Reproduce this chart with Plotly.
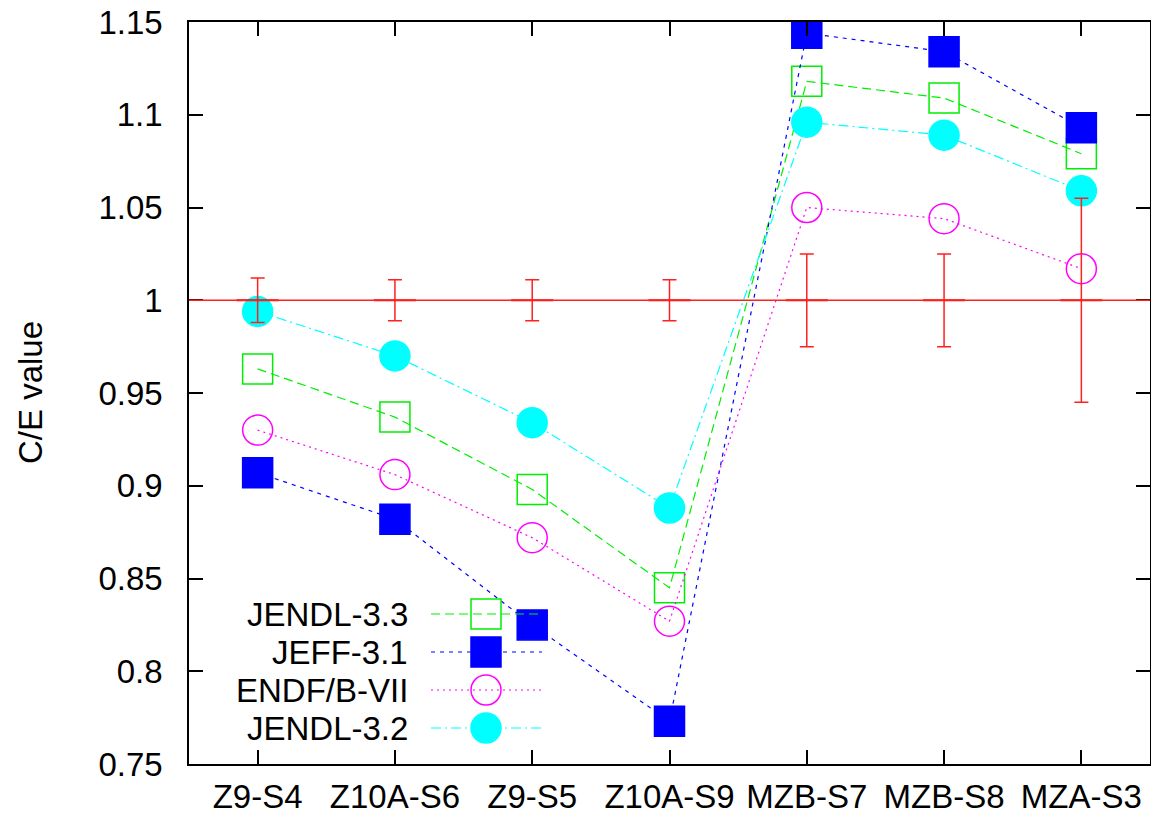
import plotly.graph_objects as go

categories = ["Z9-S4", "Z10A-S6", "Z9-S5", "Z10A-S9", "MZB-S7", "MZB-S8", "MZA-S3"]
jendl33 = [0.963, 0.937, 0.898, 0.845, 1.118, 1.109, 1.079]
jeff31 = [0.907, 0.882, 0.825, 0.773, 1.144, 1.134, 1.093]
endf7 = [0.930, 0.906, 0.872, 0.827, 1.050, 1.044, 1.017]
jendl32 = [0.994, 0.970, 0.934, 0.888, 1.096, 1.089, 1.059]
exp_value = [1, 1, 1, 1, 1, 1, 1]
exp_err = [0.012, 0.011, 0.011, 0.011, 0.025, 0.025, 0.055]

y_tickvals = [0.75, 0.8, 0.85, 0.9, 0.95, 1.0, 1.05, 1.1, 1.15]
y_ticktext = ["0.75", "0.8", "0.85", "0.9", "0.95", "1", "1.05", "1.1", "1.15"]

series_names = ["JENDL-3.3", "JEFF-3.1", "ENDF/B-VII", "JENDL-3.2"]
series_values = [jendl33, jeff31, endf7, jendl32]
series_colors = ["#00ee00", "#0000ff", "#ff00ff", "#00ffff"]
series_dash = ["9px,5px", "4px,5px", "2px,4px", "10px,4px,2px,4px"]
series_symbol = ["square-open", "square", "circle-open", "circle"]

FONT = "Liberation Sans, Arial, Helvetica, sans-serif"
FS = 33
W, H = 1151, 814
ML, MR, MT, MB = 189, 1, 22, 50

fig = go.Figure()
xidx = list(range(len(categories)))

for name, vals, col, dash, sym in zip(series_names, series_values, series_colors, series_dash, series_symbol):
    fig.add_trace(go.Scatter(
        x=xidx, y=vals, mode="lines+markers", name=name, showlegend=False,
        line=dict(color=col, width=1.2, dash=dash),
        marker=dict(symbol=sym, size=30, color=col, line=dict(color=col, width=1.5)),
    ))

# experimental reference with error bars
fig.add_shape(type="line", xref="paper", yref="y", x0=0, x1=1, y0=1, y1=1,
              line=dict(color="#ff2020", width=1.5), layer="above")
fig.add_trace(go.Scatter(
    x=xidx, y=exp_value, mode="markers", showlegend=False,
    marker=dict(symbol="line-ew", size=30, color="#ff0000", line=dict(color="#ff0000", width=2)),
    error_y=dict(type="data", array=exp_err, color="#ff2020", thickness=1.5, width=7),
))

# manual gnuplot-style key (text left, sample right) on a pixel-based overlay axis
key_y = [614, 652, 690, 728]
for name, col, dash, sym, ky in zip(series_names, series_colors, series_dash, series_symbol, key_y):
    fig.add_trace(go.Scatter(
        x=[431, 542], y=[ky, ky], mode="lines", xaxis="x2", yaxis="y2", showlegend=False,
        line=dict(color=col, width=1.2, dash=dash), hoverinfo="skip",
    ))
    fig.add_trace(go.Scatter(
        x=[486], y=[ky], mode="markers", xaxis="x2", yaxis="y2", showlegend=False,
        marker=dict(symbol=sym, size=30, color=col, line=dict(color=col, width=1.5)), hoverinfo="skip",
    ))
    fig.add_annotation(x=410, y=ky, xref="x2", yref="y2", text=name, showarrow=False,
                       xanchor="right", yanchor="middle",
                       font=dict(family=FONT, size=FS, color="black"))

fig.add_annotation(x=-159 / (W - ML - MR), y=0.5, xref="paper", yref="paper",
                   text="C/E value", textangle=-90, showarrow=False,
                   xanchor="center", yanchor="middle",
                   font=dict(family=FONT, size=FS, color="black"))

axis_common = dict(showline=True, linecolor="black", linewidth=1.5, mirror="ticks",
                   ticks="inside", ticklen=14, tickwidth=1.5, tickcolor="black",
                   showgrid=False, zeroline=False,
                   tickfont=dict(family=FONT, size=FS, color="black"))

fig.update_layout(
    width=W, height=H,
    margin=dict(l=ML, r=MR, t=MT, b=MB, autoexpand=False),
    paper_bgcolor="white", plot_bgcolor="white",
    showlegend=False,
    xaxis=dict(range=[-0.5, 6.5], tickvals=xidx, ticktext=categories,
               ticklabelstandoff=3, **axis_common),
    yaxis=dict(range=[0.75, 1.15], tickvals=y_tickvals, ticktext=y_ticktext,
               ticklabelstandoff=18, **axis_common),
    xaxis2=dict(overlaying="x", range=[ML, W - MR], visible=False),
    yaxis2=dict(overlaying="y", range=[H - MB, MT], visible=False),
)

fig.write_html("out.html")
